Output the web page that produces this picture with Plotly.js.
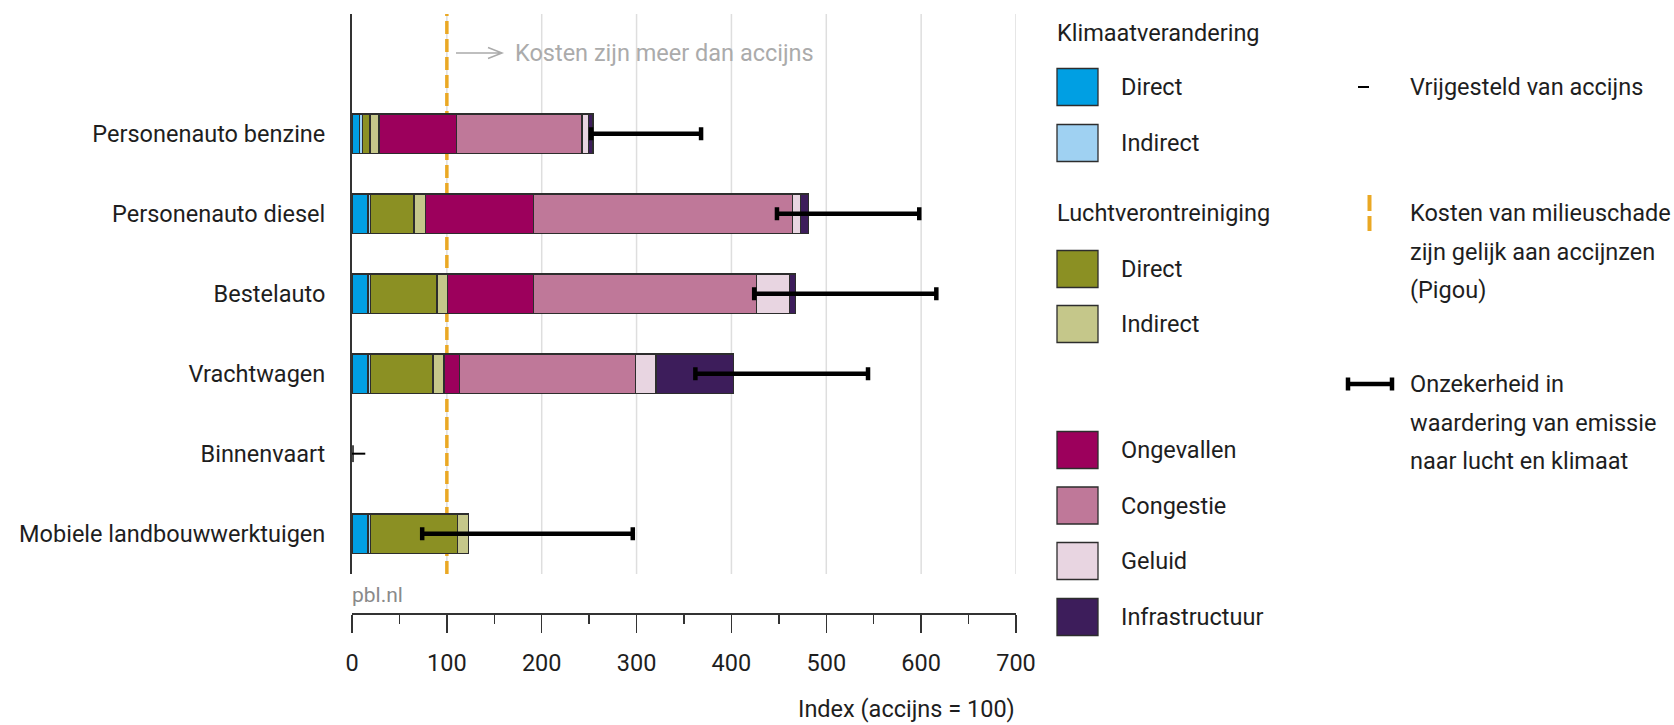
<!DOCTYPE html>
<html><head><meta charset="utf-8">
<script src="https://cdn.plot.ly/plotly-3.0.1.min.js"></script>
<style>html,body{margin:0;padding:0;background:#fff;} #chart{width:1674px;height:725px;}</style>
</head><body><div id="chart"></div>
<script>
// ---------- data ----------
const categories = ['Personenauto benzine', 'Personenauto diesel', 'Bestelauto', 'Vrachtwagen', 'Binnenvaart', 'Mobiele landbouwwerktuigen'];
const klimaatDirect   = [8,    17,   17,   17,   null, 17];
const klimaatIndirect = [3,    2.5,  2.5,  2.5,  null, 2.5];
const luchtDirect     = [8,    46,   70,   66,   null, 92];
const luchtIndirect   = [9.5,  12,   11,   11.5, null, 11.5];
const ongevallen      = [82,   114,  91,   16,   null, null];
const congestie       = [132,  273,  235,  186,  null, null];
const geluid          = [6.5,  8.5,  34.5, 21.5, null, null];
const infrastructuur  = [5,    8,    6.5,  82,   null, null];
const onzekerheidLaag = [252,  448,  424,  362,  null, 74];
const onzekerheidHoog = [368,  598,  616,  544,  null, 296];
const vrijgesteld     = [null, null, null, null, 14,   null];
const accijnsIndex = 100;
const xTickVals = [0, 100, 200, 300, 400, 500, 600, 700];
const xTickText = ['0', '100', '200', '300', '400', '500', '600', '700'];

const seriesNames = ['Klimaat direct', 'Klimaat indirect', 'Lucht direct', 'Lucht indirect', 'Ongevallen', 'Congestie', 'Geluid', 'Infrastructuur'];
const seriesValues = [klimaatDirect, klimaatIndirect, luchtDirect, luchtIndirect, ongevallen, congestie, geluid, infrastructuur];
const seriesColors = ['#009fe3', '#9fd1f2', '#8b9023', '#c5c78a', '#9c005c', '#bf7899', '#e8d5e1', '#3d1d5b'];

// ---------- layout geometry ----------
const W = 1674, H = 725, L = 352, R = 658, T = 14, B = 112;
const pw = W - L - R, ph = H - T - B;
const px = x => (x - L) / pw;
const py = y => (H - B - y) / ph;
const FONT = 'Roboto, Liberation Sans, sans-serif';
const FS = 23.5;
const TXT = '#1e1e1e';
const EDGE = '#2d2d2d';
const ORANGE = '#eaa824';

const traces = [];
seriesValues.forEach((vals, i) => {
  traces.push({
    type: 'bar', orientation: 'h', name: seriesNames[i],
    y: categories, x: vals, width: 0.49,
    marker: {color: seriesColors[i], line: {color: EDGE, width: 1.3}},
    hoverinfo: 'x+name', showlegend: false
  });
});

// uncertainty bars
traces.push({
  type: 'scatter', mode: 'markers', y: categories, x: onzekerheidLaag,
  marker: {size: 1, color: 'rgba(0,0,0,0)'},
  error_x: {type: 'data', symmetric: false,
    array: onzekerheidHoog.map((h, i) => h == null ? null : h - onzekerheidLaag[i]),
    arrayminus: onzekerheidLaag.map(v => v == null ? null : 0),
    color: '#000', thickness: 4.5, width: 6.5},
  showlegend: false, hoverinfo: 'skip'
});

// exempt-from-excise dash
categories.forEach((c, i) => {
  if (vrijgesteld[i] == null) return;
  traces.push({
    type: 'scatter', mode: 'lines+markers', y: [c, c], x: [0, vrijgesteld[i]],
    line: {color: '#000', width: 2},
    marker: {symbol: 'line-ns', size: [12, 0], line: {color: '#000', width: 4}},
    showlegend: false, hoverinfo: 'skip', cliponaxis: false
  });
});

// ---------- shapes & annotations ----------
const shapes = [];
const annotations = [];

// vertical grid lines (below everything)
xTickVals.filter(v => v > 0).forEach(v => {
  shapes.push({type: 'line', xref: 'x', yref: 'y domain', x0: v, x1: v, y0: 0, y1: 1,
    line: {color: '#dedede', width: 1.5}, layer: 'below'});
});
// reference line at accijns = 100
shapes.push({type: 'line', xref: 'x', yref: 'y domain', x0: accijnsIndex, x1: accijnsIndex, y0: 0, y1: 1,
  line: {color: ORANGE, width: 3.5, dash: '13px,5px'}, layer: 'below'});

// arrow + grey note
shapes.push({type: 'path', xref: 'paper', yref: 'paper',
  path: `M${px(456)},${py(53)} L${px(502)},${py(53)} M${px(488)},${py(47.5)} L${px(502)},${py(53)} L${px(488)},${py(58.5)}`,
  line: {color: '#ababab', width: 1.5}});
annotations.push({xref: 'paper', yref: 'paper', x: px(513), y: py(53), xanchor: 'left', yanchor: 'middle',
  text: 'Kosten zijn meer dan accijns', showarrow: false, font: {family: FONT, size: FS, color: '#ababab'}});

annotations.push({xref: 'paper', yref: 'paper', x: px(350), y: py(595), xanchor: 'left', yanchor: 'middle',
  text: 'pbl.nl', showarrow: false, font: {family: FONT, size: 21, color: '#8a8a8a'}});

annotations.push({xref: 'paper', yref: 'paper', x: px(1017), y: py(709), xanchor: 'right', yanchor: 'middle',
  text: 'Index (accijns = 100)', showarrow: false, font: {family: FONT, size: FS, color: TXT}});

// legend
function legText(x, y, t) {
  annotations.push({xref: 'paper', yref: 'paper', x: px(x), y: py(y), xanchor: 'left', yanchor: 'middle',
    text: t, showarrow: false, font: {family: FONT, size: FS, color: TXT}});
}
function swatch(y, color, label) {
  shapes.push({type: 'rect', xref: 'paper', yref: 'paper', x0: px(1057), x1: px(1098), y0: py(y - 18.5), y1: py(y + 18.5),
    fillcolor: color, line: {color: EDGE, width: 1.3}});
  legText(1119, y, label);
}
legText(1055, 33, 'Klimaatverandering');
swatch(87, seriesColors[0], 'Direct');
swatch(143, seriesColors[1], 'Indirect');
legText(1055, 213, 'Luchtverontreiniging');
swatch(269, seriesColors[2], 'Direct');
swatch(324, seriesColors[3], 'Indirect');
swatch(450, seriesColors[4], 'Ongevallen');
swatch(505.5, seriesColors[5], 'Congestie');
swatch(561, seriesColors[6], 'Geluid');
swatch(617, seriesColors[7], 'Infrastructuur');

shapes.push({type: 'line', xref: 'paper', yref: 'paper', x0: px(1358), x1: px(1369), y0: py(87), y1: py(87), line: {color: '#000', width: 2}});
legText(1408, 87, 'Vrijgesteld van accijns');

shapes.push({type: 'line', xref: 'paper', yref: 'paper', x0: px(1369.5), x1: px(1369.5), y0: py(195), y1: py(211), line: {color: ORANGE, width: 4}});
shapes.push({type: 'line', xref: 'paper', yref: 'paper', x0: px(1369.5), x1: px(1369.5), y0: py(216), y1: py(231), line: {color: ORANGE, width: 4}});
legText(1408, 213, 'Kosten van milieuschade');
legText(1408, 252, 'zijn gelijk aan accijnzen');
legText(1408, 290, '(Pigou)');

shapes.push({type: 'line', xref: 'paper', yref: 'paper', x0: px(1348), x1: px(1392), y0: py(384), y1: py(384), line: {color: '#000', width: 4.5}});
shapes.push({type: 'line', xref: 'paper', yref: 'paper', x0: px(1348), x1: px(1348), y0: py(377.5), y1: py(390.5), line: {color: '#000', width: 4.5}});
shapes.push({type: 'line', xref: 'paper', yref: 'paper', x0: px(1392), x1: px(1392), y0: py(377.5), y1: py(390.5), line: {color: '#000', width: 4.5}});
legText(1408, 384, 'Onzekerheid in');
legText(1408, 423, 'waardering van emissie');
legText(1408, 461, 'naar lucht en klimaat');

const layout = {
  width: W, height: H,
  margin: {l: L, r: R, t: T, b: B, pad: 0},
  paper_bgcolor: '#fff', plot_bgcolor: 'rgba(0,0,0,0)',
  barmode: 'stack',
  showlegend: false,
  font: {family: FONT, size: FS, color: TXT},
  xaxis: {
    range: [0, 700], anchor: 'free', position: 0,
    tickvals: xTickVals, ticktext: xTickText,
    showgrid: false,
    zeroline: false,
    showline: true, linecolor: '#333', linewidth: 1.5,
    ticks: 'outside', ticklen: 18, tickwidth: 1.5, tickcolor: '#333',
    minor: {dtick: 50, tick0: 0, ticks: 'outside', ticklen: 9, tickwidth: 1.5, tickcolor: '#333', showgrid: false},
    ticklabelstandoff: 10,
    tickfont: {family: FONT, size: FS, color: TXT},
    fixedrange: true
  },
  yaxis: {
    type: 'category', categoryorder: 'array', categoryarray: categories,
    domain: [(H - B - 574) / ph, 1],
    range: [5.504, -1.496],
    showgrid: false, zeroline: false,
    showline: true, linecolor: '#333', linewidth: 2,
    ticks: '', ticklabelstandoff: 20,
    tickfont: {family: FONT, size: FS, color: TXT},
    fixedrange: true
  },
  shapes: shapes,
  annotations: annotations
};

Plotly.newPlot('chart', traces, layout, {displayModeBar: false, staticPlot: true});
</script>
</body></html>
